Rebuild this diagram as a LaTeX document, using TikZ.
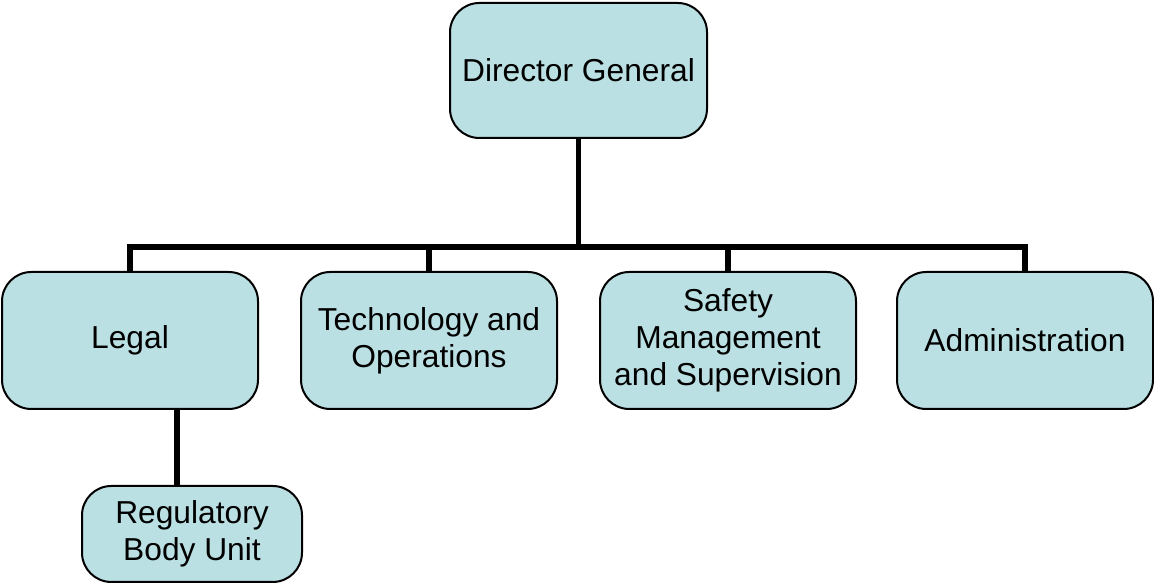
\documentclass[tikz,border=0pt]{standalone}
\usepackage{fontspec}
\setmainfont{Liberation Sans}
\usepackage{tikz}

\definecolor{boxfill}{RGB}{187,224,227}

\begin{document}
\begin{tikzpicture}[x=0.75pt, y=0.75pt,
    unit/.style={shape=rectangle, rounded corners=22pt, draw=black, line width=1.5pt,
        fill=boxfill, align=center, inner sep=0pt,
        font=\fontsize{23.8}{27.75}\selectfont,
        minimum width=192pt, minimum height=102.75pt},
    link/.style={line width=4pt}]
    \useasboundingbox (0,0) rectangle (1154,584);
    \node[unit, minimum width=192.75pt, minimum height=101.25pt] at (578.5,513.5) (DG) {Director General};
    \node[unit] at (130,243.5) (L) {Legal};
    \node[unit] at (429,243.5) (T) {Technology and\\Operations};
    \node[unit] at (728,243.5) (S) {Safety\\Management\\and Supervision};
    \node[unit] at (1025,243.5) (A) {Administration};
    \node[unit, minimum width=165pt, minimum height=72pt] at (192,50) (R) {Regulatory\\Body Unit};
    \coordinate (bus) at (578.5,337);
    \coordinate (LR) at (177,0);
    \draw[link] (DG.south) -- (bus);
    \foreach \n in {L,T,S,A}
        \draw[link] (bus) -| (\n.north);
    \draw[link] (L.south -| LR) -- (R.north -| LR);
\end{tikzpicture}
\end{document}
